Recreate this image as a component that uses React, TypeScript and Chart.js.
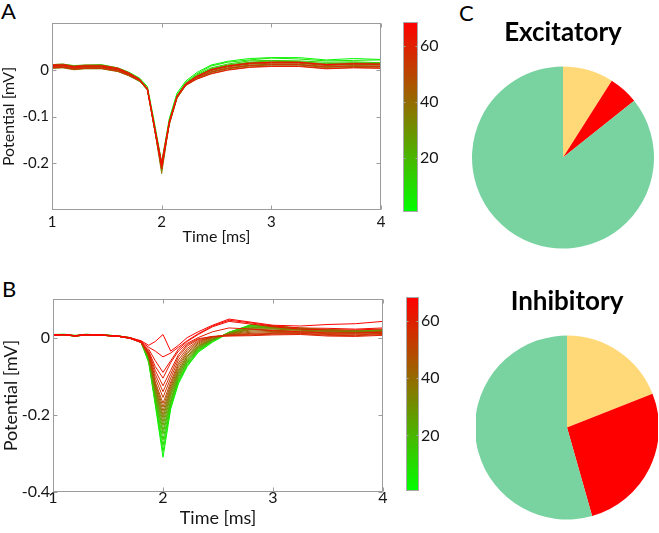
import React, { useEffect, useRef } from "react";
import { Chart, registerables } from "chart.js";

Chart.register(...registerables);
Chart.defaults.font.family = "Lato, 'Open Sans', sans-serif";

// ---------------- data ----------------
const timeMs = [1.0, 1.1, 1.2, 1.3, 1.45, 1.6, 1.7, 1.8, 1.87, 1.93, 2.0, 2.07, 2.14, 2.22, 2.32, 2.45, 2.6, 2.8, 3.0, 3.25, 3.5, 3.75, 4.0];

const timeTicks = [1, 2, 3, 4];
const potentialTicksA = [-0.2, -0.1, 0];
const potentialTicksB = [-0.4, -0.2, 0];
const colorbarTicks = [20, 40, 60];
const colorbarRange = [0.5, 68.5];

// Panel A (excitatory) traces: colour index and potential [mV]
const excitatoryTraceIndex = [2, 7, 12, 17, 22, 27, 32, 37, 42, 47, 52, 57, 62, 67];
const excitatoryPotential = [
  [0.011, 0.012, 0.009, 0.01, 0.011, 0.004, -0.005, -0.018, -0.036, -0.108, -0.198, -0.104, -0.05, -0.024, -0.006, 0.01, 0.018, 0.024, 0.026, 0.026, 0.021, 0.024, 0.022],
  [0.005, 0.006, 0.001, 0.004, 0.005, -0.002, -0.011, -0.022, -0.04, -0.112, -0.21, -0.108, -0.054, -0.027, -0.009, 0.008, 0.016, 0.021, 0.025, 0.023, 0.019, 0.02, 0.021],
  [0.009, 0.01, 0.007, 0.008, 0.007, 0.002, -0.007, -0.02, -0.042, -0.118, -0.215, -0.112, -0.056, -0.029, -0.011, 0.004, 0.012, 0.019, 0.02, 0.019, 0.016, 0.017, 0.015],
  [0.004, 0.005, 0.002, 0.003, 0.003, -0.003, -0.012, -0.025, -0.043, -0.115, -0.2, -0.11, -0.057, -0.03, -0.013, 0.002, 0.01, 0.016, 0.019, 0.017, 0.013, 0.015, 0.014],
  [0.01, 0.011, 0.006, 0.009, 0.009, 0.003, -0.007, -0.02, -0.041, -0.12, -0.208, -0.115, -0.058, -0.031, -0.014, 0.0, 0.008, 0.014, 0.016, 0.016, 0.011, 0.013, 0.012],
  [0.006, 0.007, 0.003, 0.005, 0.005, -0.001, -0.01, -0.023, -0.04, -0.117, -0.212, -0.113, -0.06, -0.032, -0.017, -0.004, 0.004, 0.01, 0.012, 0.012, 0.007, 0.009, 0.008],
  [0.008, 0.009, 0.005, 0.007, 0.007, 0.001, -0.008, -0.024, -0.044, -0.122, -0.205, -0.117, -0.061, -0.033, -0.015, 0.001, 0.009, 0.015, 0.017, 0.017, 0.012, 0.014, 0.013],
  [0.003, 0.004, 0.0, 0.002, 0.002, -0.004, -0.013, -0.025, -0.042, -0.119, -0.222, -0.114, -0.059, -0.032, -0.019, -0.006, 0.002, 0.008, 0.01, 0.01, 0.005, 0.007, 0.006],
  [0.009, 0.01, 0.006, 0.008, 0.008, 0.002, -0.007, -0.021, -0.039, -0.114, -0.202, -0.111, -0.057, -0.03, -0.014, -0.001, 0.007, 0.013, 0.015, 0.015, 0.01, 0.012, 0.011],
  [0.005, 0.006, 0.002, 0.004, 0.004, -0.002, -0.011, -0.023, -0.043, -0.12, -0.21, -0.116, -0.06, -0.034, -0.02, -0.008, 0.0, 0.006, 0.008, 0.008, 0.003, 0.005, 0.004],
  [0.011, 0.012, 0.008, 0.01, 0.01, 0.004, -0.006, -0.02, -0.041, -0.118, -0.206, -0.113, -0.058, -0.032, -0.016, -0.002, 0.006, 0.012, 0.014, 0.014, 0.009, 0.011, 0.01],
  [0.004, 0.005, 0.001, 0.003, 0.003, -0.003, -0.012, -0.023, -0.04, -0.116, -0.198, -0.11, -0.056, -0.03, -0.017, -0.005, 0.003, 0.009, 0.011, 0.011, 0.006, 0.008, 0.007],
  [0.007, 0.008, 0.004, 0.006, 0.006, 0.0, -0.009, -0.022, -0.042, -0.119, -0.212, -0.112, -0.058, -0.032, -0.02, -0.009, -0.001, 0.005, 0.007, 0.007, 0.002, 0.004, 0.003],
  [0.009, 0.01, 0.006, 0.008, 0.008, 0.002, -0.008, -0.022, -0.041, -0.117, -0.204, -0.114, -0.057, -0.03, -0.014, 0.0, 0.008, 0.014, 0.016, 0.016, 0.011, 0.013, 0.012],
];

// Panel B (inhibitory) traces
const inhibitoryTraceIndex = [2, 6, 10, 14, 18, 22, 26, 30, 34, 38, 42, 46, 50, 54, 57, 60, 62, 64, 66, 68];
const inhibitoryPotential = [
  [0.006, 0.007, 0.004, 0.008, 0.007, 0.004, 0.0, -0.012, -0.065, -0.175, -0.31, -0.185, -0.12, -0.075, -0.038, -0.012, 0.012, 0.033, 0.03, 0.024, 0.02, 0.018, 0.02],
  [0.008, 0.009, 0.006, 0.007, 0.006, 0.003, -0.001, -0.012, -0.062, -0.17, -0.295, -0.18, -0.116, -0.072, -0.036, -0.01, 0.013, 0.034, 0.029, 0.025, 0.021, 0.017, 0.019],
  [0.005, 0.008, 0.003, 0.007, 0.008, 0.004, 0.0, -0.011, -0.06, -0.165, -0.28, -0.175, -0.112, -0.07, -0.034, -0.009, 0.014, 0.032, 0.03, 0.023, 0.019, 0.018, 0.02],
  [0.007, 0.006, 0.005, 0.009, 0.006, 0.003, -0.001, -0.012, -0.058, -0.16, -0.265, -0.17, -0.108, -0.066, -0.032, -0.008, 0.014, 0.031, 0.029, 0.024, 0.02, 0.017, 0.018],
  [0.006, 0.008, 0.004, 0.007, 0.007, 0.003, 0.0, -0.011, -0.056, -0.155, -0.25, -0.165, -0.104, -0.063, -0.03, -0.007, 0.013, 0.03, 0.028, 0.022, 0.019, 0.018, 0.019],
  [0.008, 0.008, 0.005, 0.006, 0.006, 0.004, -0.001, -0.012, -0.054, -0.15, -0.24, -0.16, -0.1, -0.06, -0.028, -0.006, 0.012, 0.028, 0.027, 0.023, 0.018, 0.016, 0.018],
  [0.006, 0.007, 0.004, 0.008, 0.007, 0.003, -0.001, -0.012, -0.052, -0.145, -0.228, -0.152, -0.096, -0.057, -0.026, -0.005, 0.011, 0.026, 0.026, 0.021, 0.018, 0.017, 0.017],
  [0.007, 0.008, 0.005, 0.007, 0.006, 0.003, 0.0, -0.011, -0.05, -0.14, -0.218, -0.146, -0.092, -0.054, -0.024, -0.004, 0.011, 0.024, 0.025, 0.021, 0.017, 0.016, 0.018],
  [0.006, 0.008, 0.004, 0.007, 0.007, 0.004, -0.001, -0.012, -0.05, -0.135, -0.208, -0.14, -0.088, -0.05, -0.022, -0.003, 0.01, 0.022, 0.023, 0.02, 0.016, 0.015, 0.017],
  [0.007, 0.007, 0.005, 0.008, 0.006, 0.003, -0.002, -0.012, -0.049, -0.13, -0.2, -0.134, -0.084, -0.047, -0.02, -0.002, 0.01, 0.02, 0.022, 0.019, 0.016, 0.014, 0.016],
  [0.006, 0.008, 0.004, 0.007, 0.007, 0.003, -0.001, -0.012, -0.047, -0.125, -0.19, -0.128, -0.078, -0.042, -0.017, 0.0, 0.009, 0.017, 0.019, 0.017, 0.014, 0.013, 0.015],
  [0.007, 0.008, 0.005, 0.007, 0.006, 0.004, -0.002, -0.012, -0.046, -0.12, -0.18, -0.122, -0.072, -0.038, -0.014, 0.001, 0.008, 0.014, 0.016, 0.015, 0.012, 0.011, 0.013],
  [0.005, 0.007, 0.004, 0.008, 0.007, 0.003, -0.002, -0.013, -0.045, -0.115, -0.17, -0.115, -0.066, -0.033, -0.011, 0.002, 0.007, 0.011, 0.013, 0.013, 0.01, 0.009, 0.011],
  [0.007, 0.008, 0.005, 0.007, 0.006, 0.003, -0.002, -0.012, -0.043, -0.105, -0.155, -0.105, -0.058, -0.028, -0.008, 0.002, 0.006, 0.009, 0.011, 0.011, 0.008, 0.007, 0.01],
  [0.006, 0.008, 0.004, 0.007, 0.007, 0.004, -0.001, -0.012, -0.04, -0.095, -0.14, -0.095, -0.05, -0.022, -0.005, 0.003, 0.005, 0.007, 0.009, 0.01, 0.006, 0.005, 0.008],
  [0.007, 0.007, 0.005, 0.008, 0.006, 0.003, -0.002, -0.011, -0.038, -0.085, -0.125, -0.085, -0.044, -0.018, -0.003, 0.003, 0.004, 0.005, 0.007, 0.008, 0.004, 0.003, 0.006],
  [0.007, 0.008, 0.005, 0.007, 0.006, 0.003, -0.002, -0.012, -0.035, -0.075, -0.105, -0.065, -0.035, -0.015, 0.0, 0.015, 0.025, 0.022, 0.018, 0.015, 0.012, 0.012, 0.014],
  [0.006, 0.008, 0.004, 0.007, 0.007, 0.003, -0.001, -0.011, -0.03, -0.06, -0.09, -0.06, -0.03, -0.01, 0.008, 0.028, 0.042, 0.035, 0.028, 0.022, 0.02, 0.02, 0.022],
  [0.007, 0.007, 0.005, 0.008, 0.006, 0.003, -0.001, -0.01, -0.025, -0.035, -0.05, -0.04, -0.025, -0.008, 0.01, 0.03, 0.045, 0.038, 0.03, 0.025, 0.024, 0.022, 0.025],
  [0.006, 0.008, 0.004, 0.007, 0.006, 0.004, 0.0, -0.008, -0.02, -0.01, 0.008, -0.035, -0.02, 0.0, 0.015, 0.032, 0.048, 0.04, 0.032, 0.03, 0.034, 0.036, 0.042],
];

// Panel C pies
const pieCategories = ["Group 1", "Group 2", "Group 3"];
const pieColors = ["#FFD978", "#FF0000", "#78D3A1"];
const excitatoryShares = [9, 5.3, 85.7];
const inhibitoryShares = [19, 26.6, 54.4];

// ---------------- helpers ----------------
const traceColor = (idx: number) => {
  const t = Math.min(1, Math.max(0, (idx - colorbarRange[0]) / (colorbarRange[1] - colorbarRange[0])));
  return `rgb(${Math.round(255 * t)},${Math.round(255 * (1 - t))},0)`;
};

const TEXT = "#161616";

const boxPlugin = {
  id: "box",
  afterDatasetsDraw(chart: any, _args: any, opts: any) {
    const { ctx, chartArea: a, scales } = chart;
    if (!a) return;
    const l = Math.round(a.left) + 0.5;
    const r = Math.round(a.right) - 0.5;
    const t = Math.round(a.top) + 0.5;
    const b = Math.round(a.bottom) - 0.5;
    ctx.save();
    ctx.strokeStyle = opts.color || "#9c9c9c";
    ctx.lineWidth = 1;
    ctx.strokeRect(l, t, r - l, b - t);
    const L = opts.tick ?? 4;
    ctx.beginPath();
    if (opts.xTicks && scales.x) {
      scales.x.ticks.forEach((tk: any) => {
        const px = Math.round(scales.x.getPixelForValue(tk.value)) + 0.5;
        ctx.moveTo(px, b); ctx.lineTo(px, b - L);
        ctx.moveTo(px, t); ctx.lineTo(px, t + L);
      });
    }
    if (opts.yTicks && scales.y) {
      scales.y.ticks.forEach((tk: any) => {
        const py = Math.round(scales.y.getPixelForValue(tk.value)) + 0.5;
        ctx.moveTo(l, py); ctx.lineTo(l + L, py);
        ctx.moveTo(r, py); ctx.lineTo(r - L, py);
      });
    }
    ctx.stroke();
    ctx.restore();
  },
};

type Geo = {
  padTop: number; padRight: number; yWidth: number; xHeight: number;
  tickFont: number; titleFont: number; xTickPad: number; xTitlePadBottom: number;
  yTickPad: number; yTitlePadTop: number;
};

function lineConfig(potential: number[][], indices: number[], yMin: number, yMax: number, yTicks: number[], g: Geo): any {
  return {
    type: "line",
    data: {
      datasets: indices.map((idx, i) => ({
        label: `Trace ${idx}`,
        data: timeMs.map((t, k) => ({ x: t, y: potential[i][k] })),
        borderColor: traceColor(idx),
        borderWidth: 1,
        pointRadius: 0,
        tension: 0,
        fill: false,
        order: 1000 - idx,
      })),
    },
    options: {
      animation: false,
      responsive: true,
      maintainAspectRatio: false,
      layout: { padding: { top: g.padTop, right: g.padRight, left: 0, bottom: 0 } },
      plugins: { legend: { display: false }, tooltip: { enabled: false }, box: { xTicks: true, yTicks: true } },
      scales: {
        x: {
          type: "linear", min: 1, max: 4,
          grid: { display: false, drawTicks: false }, border: { display: false },
          afterBuildTicks: (s: any) => { s.ticks = timeTicks.map((v) => ({ value: v })); },
          afterFit: (s: any) => { s.height = g.xHeight; },
          ticks: { autoSkip: false, maxRotation: 0, padding: g.xTickPad, color: TEXT, font: { size: g.tickFont, lineHeight: 1 }, callback: (v: any) => String(v) },
          title: { display: true, text: "Time [ms]", color: TEXT, font: { size: g.titleFont, lineHeight: 1 }, padding: { top: 0, bottom: g.xTitlePadBottom } },
        },
        y: {
          type: "linear", min: yMin, max: yMax,
          grid: { display: false, drawTicks: false }, border: { display: false },
          afterBuildTicks: (s: any) => { s.ticks = yTicks.map((v) => ({ value: v })); },
          afterFit: (s: any) => { s.width = g.yWidth; },
          ticks: { autoSkip: false, padding: g.yTickPad, color: TEXT, font: { size: g.tickFont, lineHeight: 1 }, callback: (v: any) => String(v) },
          title: { display: true, text: "Potential [mV]", color: TEXT, font: { size: g.titleFont, lineHeight: 1 }, padding: { top: g.yTitlePadTop, bottom: 0 } },
        },
      },
    },
    plugins: [boxPlugin],
  };
}

function colorbarConfig(padLeft: number, padTop: number, padBottom: number, axisWidth: number): any {
  return {
    type: "bar",
    data: {
      labels: ["colour index"],
      datasets: [{
        data: [[colorbarRange[0], colorbarRange[1]]],
        barPercentage: 1,
        categoryPercentage: 1,
        borderWidth: 0,
        backgroundColor: (c: any) => {
          const chart = c.chart;
          if (!chart.chartArea) return "#888";
          const y = chart.scales.y;
          const grad = chart.ctx.createLinearGradient(0, y.getPixelForValue(colorbarRange[0]), 0, y.getPixelForValue(colorbarRange[1]));
          grad.addColorStop(0, traceColor(colorbarRange[0]));
          grad.addColorStop(1, traceColor(colorbarRange[1]));
          return grad;
        },
      }],
    },
    options: {
      animation: false,
      responsive: true,
      maintainAspectRatio: false,
      layout: { padding: { left: padLeft, top: padTop, bottom: padBottom, right: 0 } },
      plugins: { legend: { display: false }, tooltip: { enabled: false }, box: { yTicks: true, tick: 2, color: "#a8a8a8" } },
      scales: {
        x: { display: false },
        y: {
          position: "right", min: colorbarRange[0], max: colorbarRange[1],
          grid: { display: false, drawTicks: false }, border: { display: false },
          afterBuildTicks: (s: any) => { s.ticks = colorbarTicks.map((v) => ({ value: v })); },
          afterFit: (s: any) => { s.width = axisWidth; },
          ticks: { padding: 2, color: TEXT, font: { size: 16, lineHeight: 1 } },
        },
      },
    },
    plugins: [boxPlugin],
  };
}

function pieConfig(title: string, shares: number[], titlePadTop: number, radius: number): any {
  return {
    type: "pie",
    data: {
      labels: pieCategories,
      datasets: [{ data: shares, backgroundColor: pieColors, borderWidth: 0, radius }],
    },
    options: {
      animation: false,
      responsive: true,
      maintainAspectRatio: false,
      layout: { padding: 0 },
      plugins: {
        legend: { display: false },
        tooltip: { enabled: false },
        title: { display: true, text: title, color: "#000", font: { size: 26, weight: "bold", lineHeight: 1 }, padding: { top: titlePadTop, bottom: 8 } },
      },
    },
  };
}

function ChartBox(props: { left: number; top: number; width: number; height: number; make: () => any }) {
  const ref = useRef<HTMLCanvasElement>(null);
  useEffect(() => {
    const chart = new Chart(ref.current as HTMLCanvasElement, props.make());
    return () => chart.destroy();
  }, []);
  return (
    <div style={{ position: "absolute", left: props.left, top: props.top, width: props.width, height: props.height }}>
      <canvas ref={ref} />
    </div>
  );
}

const labelStyle = (left: number, top: number): React.CSSProperties => ({
  position: "absolute", left, top, fontFamily: "Lato, sans-serif", fontSize: 22, lineHeight: "22px", color: "#000",
});

export default function App() {
  return (
    <div style={{ position: "absolute", left: 0, top: 0, width: 659, height: 533, background: "#fff", overflow: "hidden" }}>
      <span style={labelStyle(1, 0)}>A</span>
      <span style={labelStyle(2, 278)}>B</span>
      <span style={labelStyle(459, 2)}>C</span>
      <ChartBox left={0} top={0} width={395} height={260}
        make={() => lineConfig(excitatoryPotential, excitatoryTraceIndex, -0.3, 0.1, potentialTicksA,
          { padTop: 23, padRight: 14, yWidth: 52, xHeight: 50, tickFont: 15, titleFont: 16, xTickPad: 5, xTitlePadBottom: 15, yTickPad: 3, yTitlePadTop: 1 })} />
      <ChartBox left={0} top={270} width={395} height={263}
        make={() => lineConfig(inhibitoryPotential, inhibitoryTraceIndex, -0.4, 0.1, potentialTicksB,
          { padTop: 29, padRight: 12, yWidth: 53, xHeight: 41, tickFont: 16, titleFont: 18, xTickPad: -2, xTitlePadBottom: 6, yTickPad: 3, yTitlePadTop: 2 })} />
      <ChartBox left={395} top={0} width={60} height={260} make={() => colorbarConfig(8, 22, 48, 37)} />
      <ChartBox left={398} top={270} width={60} height={263} make={() => colorbarConfig(8, 27, 42, 39)} />
      <ChartBox left={470} top={0} width={186} height={261} make={() => pieConfig("Excitatory", excitatoryShares, 20, 91)} />
      <ChartBox left={476} top={270} width={182} height={262} make={() => pieConfig("Inhibitory", inhibitoryShares, 19, 92)} />
    </div>
  );
}
